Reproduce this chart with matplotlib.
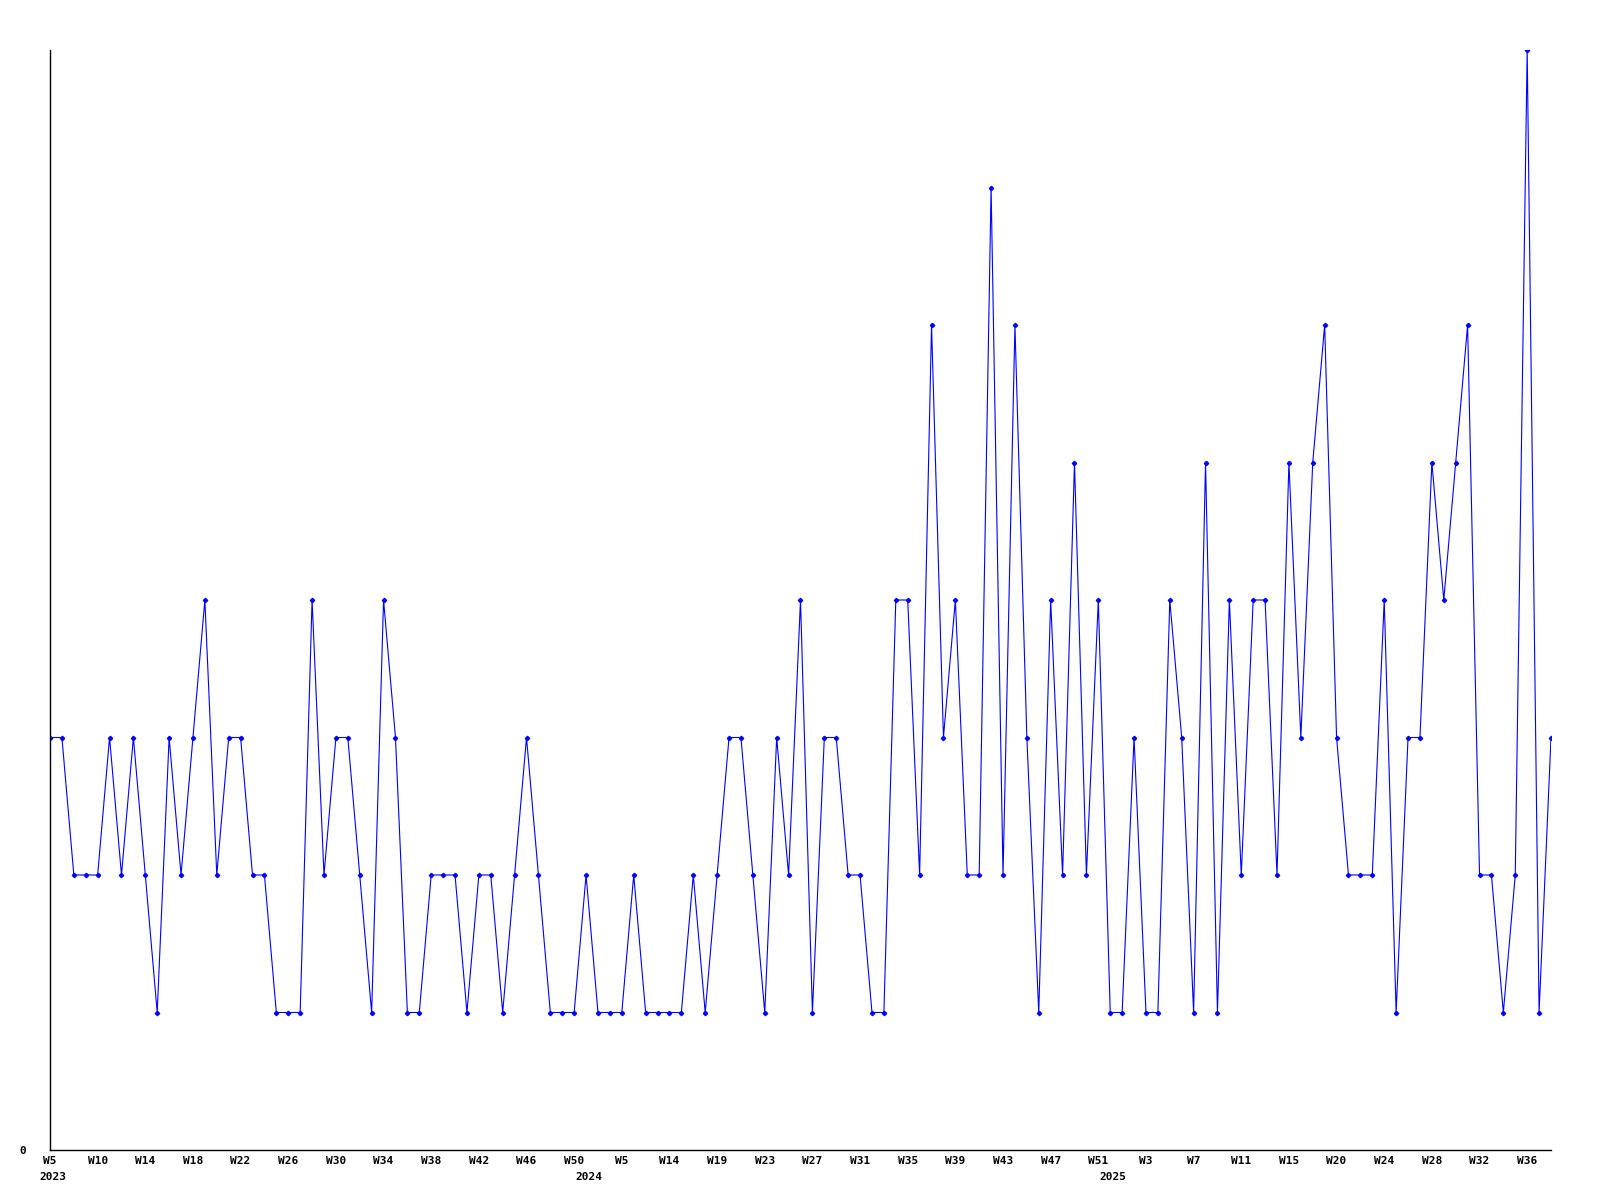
import numpy as np
import matplotlib
matplotlib.use("Agg")
import matplotlib.pyplot as plt
import matplotlib.transforms as mtrans

# weekly counts, one per category slot
counts = [3, 3, 2, 2, 2, 3, 2, 3, 2, 1,
          3, 2, 3, 4, 2, 3, 3, 2, 2, 1,
          1, 1, 4, 2, 3, 3, 2, 1, 4, 3,
          1, 1, 2, 2, 2, 1, 2, 2, 1, 2,
          3, 2, 1, 1, 1, 2, 1, 1, 1, 2,
          1, 1, 1, 1, 2, 1, 2, 3, 3, 2,
          1, 3, 2, 4, 1, 3, 3, 2, 2, 1,
          1, 4, 4, 2, 6, 3, 4, 2, 2, 7,
          2, 6, 3, 1, 4, 2, 5, 2, 4, 1,
          1, 3, 1, 1, 4, 3, 1, 5, 1, 4,
          2, 4, 4, 2, 5, 3, 5, 6, 3, 2,
          2, 2, 4, 1, 3, 3, 5, 4, 5, 6,
          2, 2, 1, 2, 8, 1, 3]

week_labels = ["W5", "W10", "W14", "W18", "W22", "W26", "W30", "W34",
               "W38", "W42", "W46", "W50", "W5", "W14", "W19", "W23",
               "W27", "W31", "W35", "W39", "W43", "W47", "W51", "W3",
               "W7", "W11", "W15", "W20", "W24", "W28", "W32", "W36"]
year_labels = ["2023", "2024", "2025"]
year_pos = [0, 45, 89]

x = np.arange(len(counts))

fig = plt.figure(figsize=(16, 12), dpi=100)
ax = fig.add_axes([50/1600, 50/1200, 1501/1600, 1100/1200])

ax.plot(x, counts, color='#0000ff', linewidth=0.8, marker='D', markersize=2.2)

ax.set_xlim(0, len(counts) - 1)
ax.set_ylim(0, 8)

font = dict(family='DejaVu Sans Mono', weight='bold', size=8)

ax.set_xticks(x[::4])
ax.set_xticklabels(week_labels, **font)
ax.set_yticks([0])
ax.set_yticklabels(['0'], **font)
ax.tick_params(axis='both', length=0)
ax.tick_params(axis='x', pad=4)
ax.tick_params(axis='y', pad=17)

trans = mtrans.blended_transform_factory(ax.transData, ax.transAxes)
shift = mtrans.ScaledTranslation(3/100, -22/100, fig.dpi_scale_trans)
for pos, yr in zip(year_pos, year_labels):
    ax.text(pos, 0, yr, transform=trans + shift, ha='center', va='top', **font)

for s in ['top', 'right']:
    ax.spines[s].set_visible(False)
ax.spines['left'].set_linewidth(1)
ax.spines['bottom'].set_linewidth(1)

fig.savefig('out.png', dpi=100)
